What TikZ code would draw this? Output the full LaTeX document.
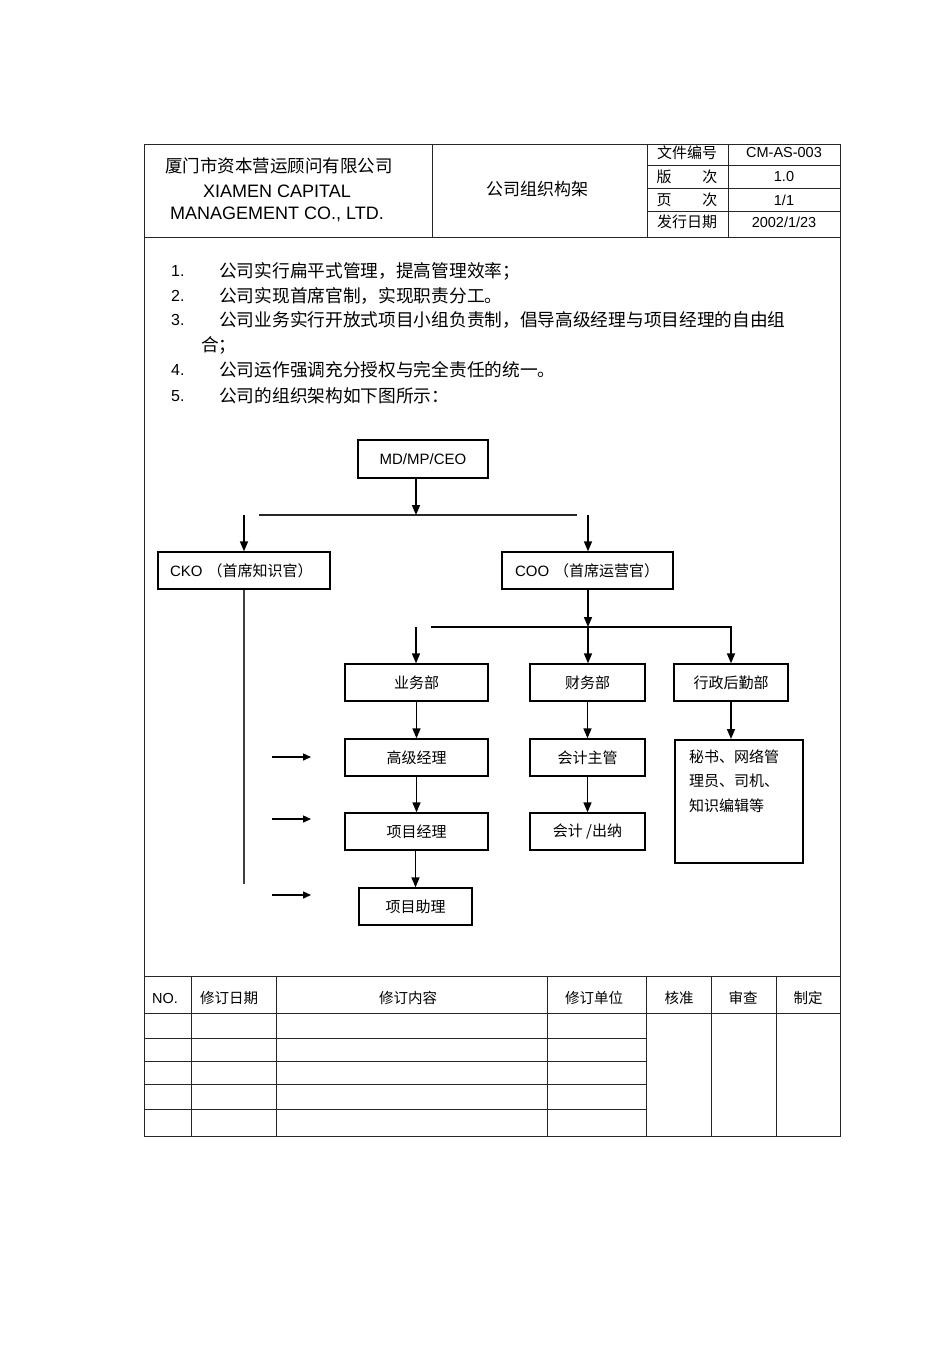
\documentclass[tikz,border=0pt]{standalone}
\usepackage{fontspec}
\setmainfont{Liberation Sans}
\newfontfamily\cjk{Noto Sans CJK SC}
\usetikzlibrary{arrows.meta}
\begin{document}
\begin{tikzpicture}[x=1pt,y=-1pt,
  box/.style={draw, line width=1.3pt, minimum height=37pt, inner sep=0pt, font=\fontsize{15}{18}\selectfont\cjk},
  arr/.style={-{Triangle[length=10pt,width=8pt]}, line width=1.5pt},
  cline/.style={line width=1.3pt},
  frame/.style={line width=0.9pt, draw=black!85},
  tcell/.style={inner sep=0pt, font=\fontsize{14.5}{17}\selectfont},
  hdr/.style={inner sep=0pt, font=\fontsize{18}{21}\selectfont},
  lst/.style={inner sep=0pt, anchor=west, font=\fontsize{17.7}{20}\selectfont\cjk},
  num/.style={inner sep=0pt, anchor=west, font=\fontsize{16}{19}\selectfont},
  larr/.style={-{Triangle[length=8pt,width=7pt]}, line width=1.4pt}]
\useasboundingbox (0,0) rectangle (950,1345);
\fill[white] (0,0) rectangle (950,1345);

% ---------- frame and header ----------
\draw[frame] (144,144) rectangle (840,1136);
\draw[frame] (144,237) -- (840,237);
\draw[frame] (432,144) -- (432,237);
\draw[frame] (647,144) -- (647,237);
\draw[frame] (728,144) -- (728,237);
\draw[frame] (647,165) -- (840,165);
\draw[frame] (647,188) -- (840,188);
\draw[frame] (647,211) -- (840,211);

\node[hdr, font=\fontsize{17.5}{21}\selectfont\cjk] (co) at (279,166) {厦门市资本营运顾问有限公司};
\node[hdr] (en1) at (277,191) {XIAMEN CAPITAL};
\node[hdr] (en2) at (277,214) {MANAGEMENT CO., LTD.};
\node[hdr, font=\fontsize{17}{20}\selectfont\cjk] (title) at (537,189) {公司组织构架};

\node[tcell, font=\fontsize{15}{17}\selectfont\cjk] (k1) at (687,153) {文件编号};
\node[tcell, font=\fontsize{15}{17}\selectfont\cjk] (k2) at (687,177) {版\hspace{31pt}次};
\node[tcell, font=\fontsize{15}{17}\selectfont\cjk] (k3) at (687,200) {页\hspace{31pt}次};
\node[tcell, font=\fontsize{15}{17}\selectfont\cjk] (k4) at (687,222) {发行日期};
\node[tcell] (v1) at (784,153) {CM-AS-003};
\node[tcell] (v2) at (784,177) {1.0};
\node[tcell] (v3) at (784,200) {1/1};
\node[tcell] (v4) at (784,222) {2002/1/23};

% ---------- list ----------
\node[num] (n1) at (171,271) {1.};
\node[num] (n2) at (171,296) {2.};
\node[num] (n3) at (171,320) {3.};
\node[num] (n4) at (171,370) {4.};
\node[num] (n5) at (171,396) {5.};
\node[lst] (t1) at (219,271) {公司实行扁平式管理，提高管理效率；};
\node[lst] (t2) at (219,296) {公司实现首席官制，实现职责分工。};
\node[lst] (t3) at (219,320) {公司业务实行开放式项目小组负责制，倡导高级经理与项目经理的自由组};
\node[lst] (t3b) at (201,345) {合；};
\node[lst] (t4) at (219,370) {公司运作强调充分授权与完全责任的统一。};
\node[lst] (t5) at (219,396) {公司的组织架构如下图所示：};

% ---------- chart ----------
\node[box, minimum width=130pt, minimum height=38pt, font=\fontsize{15}{18}\selectfont] (md) at (423,459) {MD/MP/CEO};
\node[box, minimum width=172pt, text width=148pt, align=left] (cko) at (244,570.5) {{\fontspec{Liberation Sans}CKO} （首席知识官）};
\node[box, minimum width=171pt, text width=145pt, align=left] (coo) at (587.5,570.5) {{\fontspec{Liberation Sans}COO} （首席运营官）};

\node[box, minimum width=143pt] (yw) at (416.5,682.5) {业务部};
\node[box, minimum width=115pt] (cw) at (587.5,682.5) {财务部};
\node[box, minimum width=114pt] (xz) at (731,682.5) {行政后勤部};

\node[box, minimum width=143pt] (gj) at (416.5,757.5) {高级经理};
\node[box, minimum width=115pt] (kz) at (587.5,757.5) {会计主管};
\node[box, line width=1.7pt, minimum width=128pt, minimum height=123pt, anchor=north west] (ms) at (674,739) {};
\node[inner sep=0pt, anchor=north west, align=left, font=\fontsize{15}{24.5}\selectfont\cjk] (mstext) at (689,749) {秘书、网络管\\理员、司机、\\知识编辑等};

\node[box, minimum width=143pt] (xm) at (416.5,831.5) {项目经理};
\node[box, minimum width=115pt] (kc) at (587.5,831.5) {会计 /出纳};
\node[box, minimum width=113pt] (zl) at (415.5,906.5) {项目助理};

\coordinate (j1) at (416,515);
\coordinate (h1l) at (259,515);
\coordinate (h1r) at (577,515);
\coordinate (a1) at (244,515);
\coordinate (a2) at (588,515);
\draw[arr] (j1 |- md.south) -- (j1);
\draw[cline, line width=1.2pt, draw=black!85] (h1l) -- (h1r);
\draw[arr] (a1) -- (a1 |- cko.north);
\draw[arr] (a2) -- (a2 |- coo.north);

\coordinate (ckoend) at (244,884);
\draw[line width=1.1pt, draw=black!75] (cko.south) -- (ckoend);

\coordinate (j2) at (588,627);
\coordinate (h2l) at (431,627);
\coordinate (h2c) at (731,627);
\coordinate (a3) at (416,627);
\draw[arr] (j2 |- coo.south) -- (j2);
\draw[arr] (h2l) -- (h2c) -- (xz.north);
\draw[arr] (a3) -- (a3 |- yw.north);
\draw[arr] (j2) -- (j2 |- cw.north);

\draw[arr] (yw.south) -- (gj.north);
\draw[arr] (gj.south) -- (xm.north);
\draw[arr] (xm.south -| zl.north) -- (zl.north);
\draw[arr] (cw.south) -- (kz.north);
\draw[arr] (kz.south) -- (kc.north);
\draw[arr] (xz.south) -- (xz.south |- ms.north);

\coordinate (l1s) at (272,757); \coordinate (l1e) at (311,757);
\coordinate (l2s) at (272,819); \coordinate (l2e) at (311,819);
\coordinate (l3s) at (272,895); \coordinate (l3e) at (311,895);
\draw[larr] (l1s) -- (l1e);
\draw[larr] (l2s) -- (l2e);
\draw[larr] (l3s) -- (l3e);

% ---------- revision table ----------
\draw[frame] (144,976) -- (840,976);
\draw[frame] (144,1013) -- (840,1013);
\foreach \yy in {1038,1061,1084,1109} \draw[frame] (144,\yy) -- (646,\yy);
\foreach \xx in {191,276,547,646,711,776} \draw[frame] (\xx,976) -- (\xx,1136);

\node[tcell] (c1) at (165,998) {NO.};
\node[tcell, font=\fontsize{14.5}{17}\selectfont\cjk] (c2) at (229,998) {修订日期};
\node[tcell, font=\fontsize{14.5}{17}\selectfont\cjk] (c3) at (408,998) {修订内容};
\node[tcell, font=\fontsize{14.5}{17}\selectfont\cjk] (c4) at (594,998) {修订单位};
\node[tcell, font=\fontsize{14.5}{17}\selectfont\cjk] (c5) at (679,998) {核准};
\node[tcell, font=\fontsize{14.5}{17}\selectfont\cjk] (c6) at (743,998) {审查};
\node[tcell, font=\fontsize{14.5}{17}\selectfont\cjk] (c7) at (808,998) {制定};
\end{tikzpicture}
\end{document}
